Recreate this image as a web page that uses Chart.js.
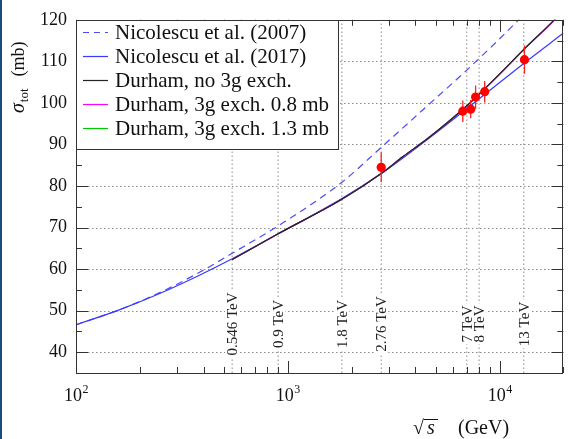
<!DOCTYPE html>
<html><head><meta charset="utf-8">
<script src="https://cdn.jsdelivr.net/npm/chart.js@4.4.1/dist/chart.umd.min.js"></script>
<style>
html,body{margin:0;padding:0;background:#fff;}
#wrap{position:relative;width:568px;height:439px;overflow:hidden;}
#edge{position:absolute;left:0;top:0;width:2px;height:439px;background:#154c7a;}
canvas{display:block;}
</style></head><body>
<div id="wrap"><canvas id="c" width="568" height="439"></canvas><div id="edge"></div></div>
<script>
// ---- data (sqrt(s) in GeV, sigma_tot in mb) ----
const energyLines = [546, 900, 1800, 2760, 7000, 8000, 13000];
const energyLabels = ['0.546 TeV', '0.9 TeV', '1.8 TeV', '2.76 TeV', '7 TeV', '8 TeV', '13 TeV'];

const nic2007E = [100, 160, 250, 385, 546, 900, 1800, 2760, 4400, 7000, 12300, 13000];
const nic2007S = [46.6, 50.2, 54.4, 59.3, 63.8, 70.4, 80.9, 89.3, 98.6, 107.9, 120.0, 121.3];

const nic2017E = [100, 160, 250, 385, 546, 900, 1800, 2760, 4400, 7000, 10000, 13000, 20000];
const nic2017S = [46.6, 50.2, 54.2, 58.6, 62.5, 68.5, 77.0, 83.0, 90.6, 98.6, 104.9, 109.5, 116.8];

const durhamE = [546, 900, 1800, 2760, 3500, 4430, 5120, 7000, 10000, 13000, 18100, 20000];
const durhamNoS = [62.3, 68.5, 76.8, 83.0, 87.1, 90.9, 93.4, 99.3, 107.0, 112.9, 120.0, 122.4];
const durham08S = [62.3, 68.5, 76.8, 83.0, 87.1, 90.9, 93.4, 99.3, 106.9, 112.8, 119.9, 122.3];
const durham13S = [62.3, 68.5, 76.8, 83.0, 87.1, 90.9, 93.4, 99.3, 106.9, 112.8, 119.9, 122.3];

const measE = [2760, 6700, 7300, 7700, 8500, 13100];
const measS = [84.5, 98.0, 98.5, 101.4, 102.7, 110.4];
const measErr = [3.6, 2.6, 2.2, 2.8, 2.6, 3.4];

const yTickValues = [40, 50, 60, 70, 80, 90, 100, 110, 120];
const yMinorValues = [45, 55, 65, 75, 85, 95, 105, 115];
const xDecades = [100, 1000, 10000];
const xDecadeExp = ['2', '3', '4'];
const xMinorValues = [200, 300, 400, 500, 600, 700, 800, 900, 2000, 3000, 4000, 5000, 6000, 7000, 8000, 9000, 20000];

const legendLabels = ['Nicolescu et al. (2007)', 'Nicolescu et al. (2017)', 'Durham, no 3g exch.', 'Durham, 3g exch. 0.8 mb', 'Durham, 3g exch. 1.3 mb'];

const Y_MIN = 35, Y_MAX = 120, X_MIN = 100, X_MAX = 20000;

// ---- build datasets ----
const pts = (xs, ys) => xs.map((x, i) => ({x, y: ys[i]}));
const vlinePts = [];
energyLines.forEach(e => { vlinePts.push({x: e, y: Y_MIN}, {x: e, y: Y_MAX}, {x: e, y: null}); });
const errPts = [];
measE.forEach((e, i) => { errPts.push({x: e, y: measS[i] - measErr[i]}, {x: e, y: measS[i] + measErr[i]}, {x: e, y: null}); });

const SERIF = "'Liberation Serif', 'DejaVu Serif', serif";
const curve = (label, data, color, order, dash) => ({
  label, data, borderColor: color, backgroundColor: color, borderWidth: 1.2,
  pointRadius: 0, cubicInterpolationMode: 'monotone', order, borderDash: dash || [], fill: false
});

const datasets = [
  {label: 'energies', data: vlinePts, borderColor: '#8a8a8a', borderWidth: 1, borderDash: [1.5, 2.5], pointRadius: 0, spanGaps: false, order: 20},
  curve(legendLabels[0], pts(nic2007E, nic2007S), '#4a4aff', 8, [7, 5]),
  curve(legendLabels[1], pts(nic2017E, nic2017S), '#3838ff', 7),
  curve(legendLabels[4], pts(durhamE, durham13S), '#00c800', 6),
  curve(legendLabels[3], pts(durhamE, durham08S), '#ff00ff', 5),
  curve(legendLabels[2], pts(durhamE, durhamNoS), '#222222', 4),
  {label: 'errors', data: errPts, borderColor: '#ff2020', borderWidth: 1.3, pointRadius: 0, spanGaps: false, order: 2},
  {label: 'data', data: pts(measE, measS), showLine: false, pointRadius: 4.6, pointBackgroundColor: '#ff0000', pointBorderColor: '#ff0000', pointBorderWidth: 0, order: 1}
];
const legendStyles = [
  {color: '#4a4aff', dash: [6, 5]}, {color: '#3838ff', dash: []}, {color: '#222222', dash: []},
  {color: '#ff00ff', dash: []}, {color: '#00c800', dash: []}
];

// ---- plugin drawing frame, inward ticks, grid, labels, legend ----
const decor = {
  id: 'decor',
  beforeDatasetsDraw(chart) {
    const {ctx, chartArea: a, scales: {y}} = chart;
    ctx.save();
    ctx.strokeStyle = '#8a8a8a'; ctx.lineWidth = 1; ctx.setLineDash([1.5, 2.5]);
    yTickValues.forEach(v => {
      if (v >= Y_MAX) return;
      const py = Math.round(y.getPixelForValue(v)) + 0.5;
      ctx.beginPath(); ctx.moveTo(a.left, py); ctx.lineTo(a.right, py); ctx.stroke();
    });
    ctx.restore();
  },
  afterDatasetsDraw(chart) {
    const {ctx, chartArea: a, scales: {x, y}} = chart;
    ctx.save();
    ctx.strokeStyle = '#333'; ctx.lineWidth = 1; ctx.setLineDash([]);
    const tx = (v, len) => {
      const px = Math.round(x.getPixelForValue(v)) + 0.5;
      ctx.beginPath(); ctx.moveTo(px, a.bottom); ctx.lineTo(px, a.bottom - len); ctx.stroke();
      ctx.beginPath(); ctx.moveTo(px, a.top); ctx.lineTo(px, a.top + len); ctx.stroke();
    };
    const ty = (v, len) => {
      const py = Math.round(y.getPixelForValue(v)) + 0.5;
      ctx.beginPath(); ctx.moveTo(a.left, py); ctx.lineTo(a.left + len, py); ctx.stroke();
      ctx.beginPath(); ctx.moveTo(a.right, py); ctx.lineTo(a.right - len, py); ctx.stroke();
    };
    xDecades.forEach(v => tx(v, 12));
    xMinorValues.forEach(v => tx(v, 6));
    yTickValues.forEach(v => ty(v, 12));
    yMinorValues.forEach(v => ty(v, 6));
    ctx.strokeStyle = '#333';
    ctx.strokeRect(Math.round(a.left) + 0.5, Math.round(a.top) + 0.5, Math.round(a.right - a.left) - 1, Math.round(a.bottom - a.top));

    // energy labels (rotated, white background)
    ctx.font = '15px ' + SERIF; ctx.fillStyle = '#222';
    ctx.textAlign = 'center'; ctx.textBaseline = 'middle';
    energyLabels.forEach((t, i) => {
      const px = x.getPixelForValue(energyLines[i]);
      const py = y.getPixelForValue(46.8);
      const w = ctx.measureText(t).width;
      ctx.save(); ctx.translate(px, py); ctx.rotate(-Math.PI / 2);
      ctx.fillStyle = '#fff'; ctx.fillRect(-w / 2 - 2, -7, w + 4, 14);
      ctx.fillStyle = '#222'; ctx.fillText(t, 0, 1);
      ctx.restore();
    });

    // x tick labels with superscripts
    ctx.textAlign = 'left'; ctx.textBaseline = 'alphabetic'; ctx.fillStyle = '#111';
    xDecades.forEach((v, i) => {
      const px = x.getPixelForValue(v);
      ctx.font = '18px ' + SERIF;
      const w1 = ctx.measureText('10').width;
      ctx.font = '12px ' + SERIF;
      const w2 = ctx.measureText(xDecadeExp[i]).width;
      const x0 = px - (w1 + w2) / 2;
      ctx.font = '18px ' + SERIF; ctx.fillText('10', x0, 401);
      ctx.font = '12px ' + SERIF; ctx.fillText(xDecadeExp[i], x0 + w1 + 0.5, 393);
    });
    // x axis title
    ctx.font = '20px ' + SERIF; ctx.fillStyle = '#111';
    ctx.fillText('\u221A', 413, 434);
    ctx.font = 'italic 20px ' + SERIF; ctx.fillText('s', 427, 434);
    ctx.beginPath(); ctx.strokeStyle = '#111'; ctx.lineWidth = 1;
    ctx.moveTo(424, 419.5); ctx.lineTo(438, 419.5); ctx.stroke();
    ctx.font = '20px ' + SERIF; ctx.fillText('(GeV)', 458, 434);

    // y axis title
    ctx.save(); ctx.translate(24, 113); ctx.rotate(-Math.PI / 2);
    ctx.textAlign = 'left'; ctx.textBaseline = 'alphabetic';
    ctx.font = 'italic 20px ' + SERIF; ctx.fillText('\u03C3', 0, 0);
    let cx = ctx.measureText('\u03C3').width + 1;
    ctx.font = '13px ' + SERIF; ctx.fillText('tot', cx, 4);
    cx += ctx.measureText('tot').width + 12;
    ctx.font = '18px ' + SERIF; ctx.fillText('(mb)', cx, 0);
    ctx.restore();

    // legend box
    const lx = Math.round(a.left) + 0.5, ly = Math.round(a.top) + 0.5;
    ctx.fillStyle = '#fff'; ctx.fillRect(lx, ly, 262, 129);
    ctx.strokeStyle = '#333'; ctx.lineWidth = 1; ctx.strokeRect(lx, ly, 262, 129);
    ctx.font = '21px ' + SERIF; ctx.textBaseline = 'middle'; ctx.textAlign = 'left';
    legendLabels.forEach((t, i) => {
      const cy = 32 + i * 24;
      const st = legendStyles[i];
      ctx.strokeStyle = st.color; ctx.lineWidth = 1.2; ctx.setLineDash(st.dash);
      ctx.beginPath(); ctx.moveTo(83, cy + 0.5); ctx.lineTo(108, cy + 0.5); ctx.stroke();
      ctx.setLineDash([]);
      ctx.fillStyle = '#111'; ctx.fillText(t, 115, cy + 1);
    });
    ctx.restore();
  }
};

function build() {
  new Chart(document.getElementById('c'), {
    type: 'line',
    data: {datasets},
    options: {
      responsive: false, animation: false, devicePixelRatio: 1,
      layout: {padding: {top: 16, right: 1, left: 0, bottom: 0}},
      plugins: {legend: {display: false}, tooltip: {enabled: false}},
      scales: {
        x: {
          type: 'logarithmic', min: X_MIN, max: X_MAX,
          grid: {display: false, drawTicks: false}, border: {display: false},
          ticks: {display: false},
          afterFit: s => { s.height = 66; }
        },
        y: {
          type: 'linear', min: Y_MIN, max: Y_MAX,
          grid: {display: false, drawTicks: false}, border: {display: false},
          afterBuildTicks: s => { s.ticks = yTickValues.map(v => ({value: v})); },
          ticks: {padding: 9, color: '#111', font: {family: SERIF, size: 18}},
          afterFit: s => { s.width = 76; }
        }
      }
    },
    plugins: [decor]
  });
}
const loads = ["18px 'Liberation Serif'", "italic 18px 'Liberation Serif'"].map(f => document.fonts.load(f).catch(() => null));
Promise.race([Promise.all(loads), new Promise(r => setTimeout(r, 1500))]).then(build);
</script>
</body></html>
